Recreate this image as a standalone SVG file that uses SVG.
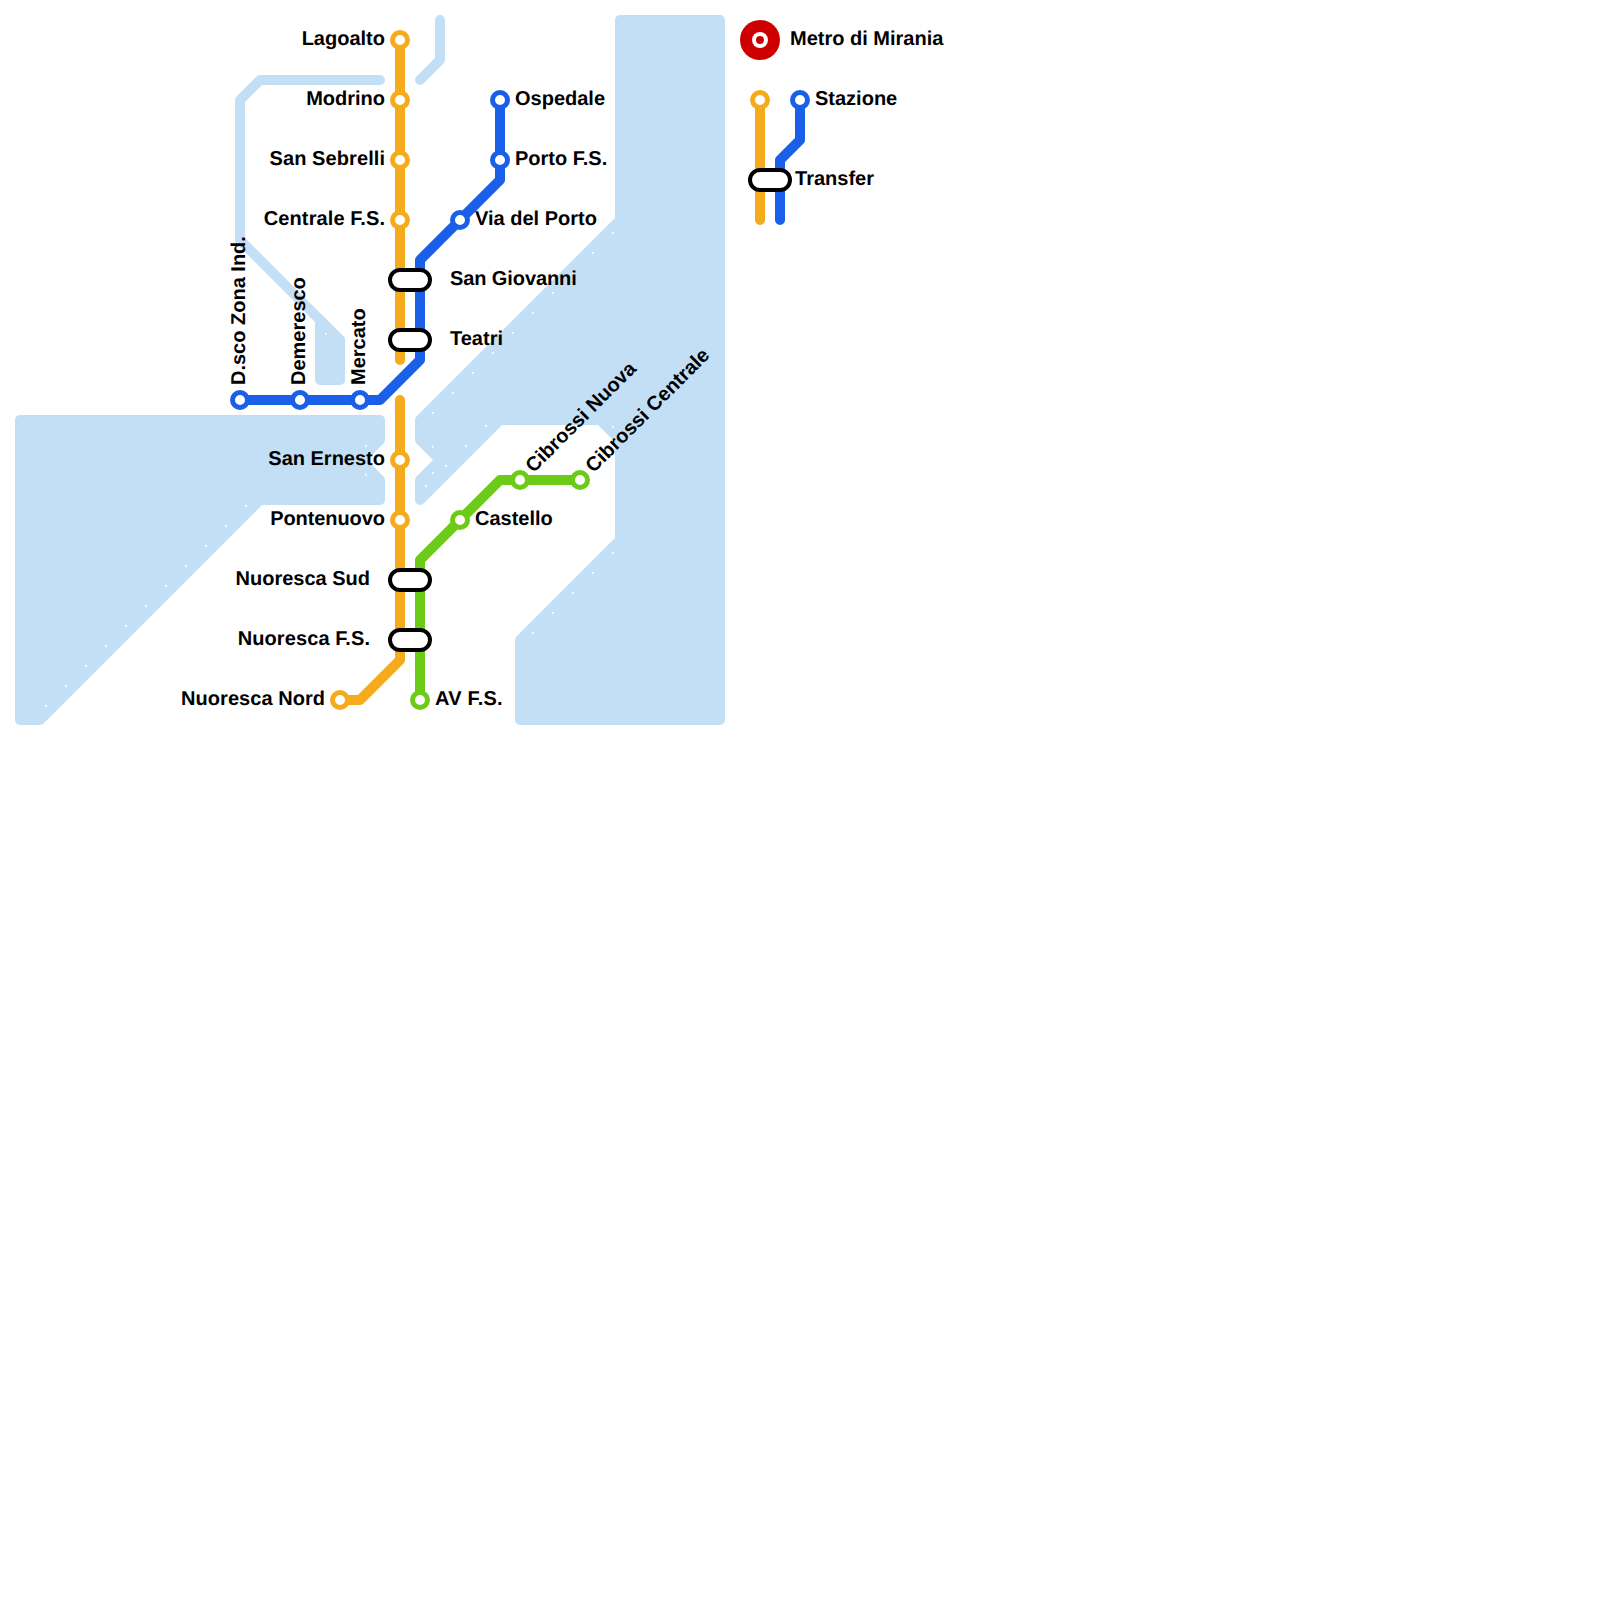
<svg xmlns="http://www.w3.org/2000/svg" width="1600" height="1600" viewBox="0 0 1600 1600">
<style>
text{font-family:"Liberation Sans",Arial,sans-serif;font-weight:700;font-size:20px;fill:#000;text-rendering:geometricPrecision}
.e{text-anchor:end}
.w{fill:#c3dff5;stroke:#c3dff5;stroke-width:10;stroke-linejoin:round;stroke-linecap:round}
.wl{fill:none;stroke:#c3dff5;stroke-width:10;stroke-linejoin:round;stroke-linecap:round}
.l{fill:none;stroke-width:10;stroke-linejoin:round;stroke-linecap:round}
.o{stroke:#f5ab1b}.b{stroke:#1a5fe8}.g{stroke:#6ccb16}
.s{fill:#fff;stroke-width:5}
.x{fill:#fff;stroke:#000;stroke-width:4}
</style>
<rect width="1600" height="1600" fill="#fff"/>
<g id="water">
<path class="w" d="M20 420H380V440L360 460L380 480V500H260L40 720H20Z"/>
<path class="w" d="M620 20H720V720H520V640L620 540V440L600 420H500L420 500V480L440 460L420 440V420L620 220Z"/>
<path class="w" d="M320 320L340 340V380H320Z"/>
<path class="wl" d="M380 80H260L240 100V240L340 340"/>
<path class="wl" d="M440 20V60L420 80"/>
<path fill="#fff" d="M45 705h2.5l-2.5 2.5zM65 685h2.5l-2.5 2.5zM85 665h2.5l-2.5 2.5zM105 645h2.5l-2.5 2.5zM125 625h2.5l-2.5 2.5zM145 605h2.5l-2.5 2.5zM165 585h2.5l-2.5 2.5zM185 565h2.5l-2.5 2.5zM205 545h2.5l-2.5 2.5zM225 525h2.5l-2.5 2.5zM245 505h2.5l-2.5 2.5zM365 445h2.5l-2.5 2.5zM532 632h2.5l-2.5 2.5zM552 612h2.5l-2.5 2.5zM572 592h2.5l-2.5 2.5zM592 572h2.5l-2.5 2.5zM612 552h2.5l-2.5 2.5zM612 232h2.5l-2.5 2.5zM592 252h2.5l-2.5 2.5zM572 272h2.5l-2.5 2.5zM552 292h2.5l-2.5 2.5zM532 312h2.5l-2.5 2.5zM512 332h2.5l-2.5 2.5zM492 352h2.5l-2.5 2.5zM472 372h2.5l-2.5 2.5zM452 392h2.5l-2.5 2.5zM432 412h2.5l-2.5 2.5zM432 472h2.5l-2.5 2.5zM425 485h2.5l-2.5 2.5zM445 465h2.5l-2.5 2.5zM465 445h2.5l-2.5 2.5zM485 425h2.5l-2.5 2.5zM365 473v2.5h2.5zM432 445v2.5h2.5zM612 425v2.5h2.5zM325 332v2.5h2.5z"/>
</g>
<g id="connectors">
<path class="l o" d="M400 40V360"/>
<path class="l o" d="M400 400V660L360 700H340"/>
<path class="l b" d="M500 100V180L420 260V360L380 400H240"/>
<path class="l g" d="M420 700V560L500 480H580"/>
<path class="l o" d="M760 100V220"/>
<path class="l b" d="M800 100V140L780 160V220"/>
</g>
<g id="n-lagoalto"><circle class="s o" cx="400" cy="40" r="7.5"/><text class="e" x="385" y="44.5">Lagoalto</text></g>
<g id="n-modrino"><circle class="s o" cx="400" cy="100" r="7.5"/><text class="e" x="385" y="104.5">Modrino</text></g>
<g id="n-san-sebrelli"><circle class="s o" cx="400" cy="160" r="7.5"/><text class="e" x="385" y="164.5" textLength="115.5">San Sebrelli</text></g>
<g id="n-centrale"><circle class="s o" cx="400" cy="220" r="7.5"/><text class="e" x="385" y="224.5" textLength="121.2">Centrale F.S.</text></g>
<g id="n-san-giovanni"><rect class="x" x="390" y="270" width="40" height="20" rx="10"/><text x="450" y="284.5" textLength="126.8">San Giovanni</text></g>
<g id="n-teatri"><rect class="x" x="390" y="330" width="40" height="20" rx="10"/><text x="450" y="344.5">Teatri</text></g>
<g id="n-ospedale"><circle class="s b" cx="500" cy="100" r="7.5"/><text x="515" y="104.5">Ospedale</text></g>
<g id="n-porto"><circle class="s b" cx="500" cy="160" r="7.5"/><text x="515" y="164.5">Porto F.S.</text></g>
<g id="n-via-porto"><circle class="s b" cx="460" cy="220" r="7.5"/><text x="475" y="224.5">Via del Porto</text></g>
<g id="n-dsco"><circle class="s b" cx="240" cy="400" r="7.5"/><text transform="rotate(-90 240 385)" x="240" y="390">D.sco Zona Ind.</text></g>
<g id="n-demeresco"><circle class="s b" cx="300" cy="400" r="7.5"/><text transform="rotate(-90 300 385)" x="300" y="390">Demeresco</text></g>
<g id="n-mercato"><circle class="s b" cx="360" cy="400" r="7.5"/><text transform="rotate(-90 360 385)" x="360" y="390">Mercato</text></g>
<g id="n-san-ernesto"><circle class="s o" cx="400" cy="460" r="7.5"/><text class="e" x="385" y="464.5">San Ernesto</text></g>
<g id="n-pontenuovo"><circle class="s o" cx="400" cy="520" r="7.5"/><text class="e" x="385" y="524.5" textLength="114.8">Pontenuovo</text></g>
<g id="n-nuoresca-sud"><rect class="x" x="390" y="570" width="40" height="20" rx="10"/><text class="e" x="370" y="584.5">Nuoresca Sud</text></g>
<g id="n-nuoresca-fs"><rect class="x" x="390" y="630" width="40" height="20" rx="10"/><text class="e" x="370" y="644.5" textLength="132.3">Nuoresca F.S.</text></g>
<g id="n-nuoresca-nord"><circle class="s o" cx="340" cy="700" r="7.5"/><text class="e" x="325" y="704.5" textLength="143.9">Nuoresca Nord</text></g>
<g id="n-av"><circle class="s g" cx="420" cy="700" r="7.5"/><text x="435" y="704.5" textLength="67.6">AV F.S.</text></g>
<g id="n-castello"><circle class="s g" cx="460" cy="520" r="7.5"/><text x="475" y="524.5">Castello</text></g>
<g id="n-cibrossi-nuova"><circle class="s g" cx="520" cy="480" r="7.5"/><text transform="rotate(-45 530 470)" x="530" y="475">Cibrossi Nuova</text></g>
<g id="n-cibrossi-centrale"><circle class="s g" cx="580" cy="480" r="7.5"/><text transform="rotate(-45 590 470)" x="590" y="475">Cibrossi Centrale</text></g>
<g id="legend-logo"><circle cx="760" cy="40" r="20" fill="#cc0000"/><circle cx="760" cy="40" r="6" fill="#cc0000" stroke="#fff" stroke-width="4"/><text x="790" y="44.5">Metro di Mirania</text></g>
<g id="legend-station"><circle class="s o" cx="760" cy="100" r="7.5"/><circle class="s b" cx="800" cy="100" r="7.5"/><text x="815" y="104.5">Stazione</text></g>
<g id="legend-transfer"><rect class="x" x="750" y="170" width="40" height="20" rx="10"/><text x="795" y="184.5" textLength="79">Transfer</text></g>
</svg>
